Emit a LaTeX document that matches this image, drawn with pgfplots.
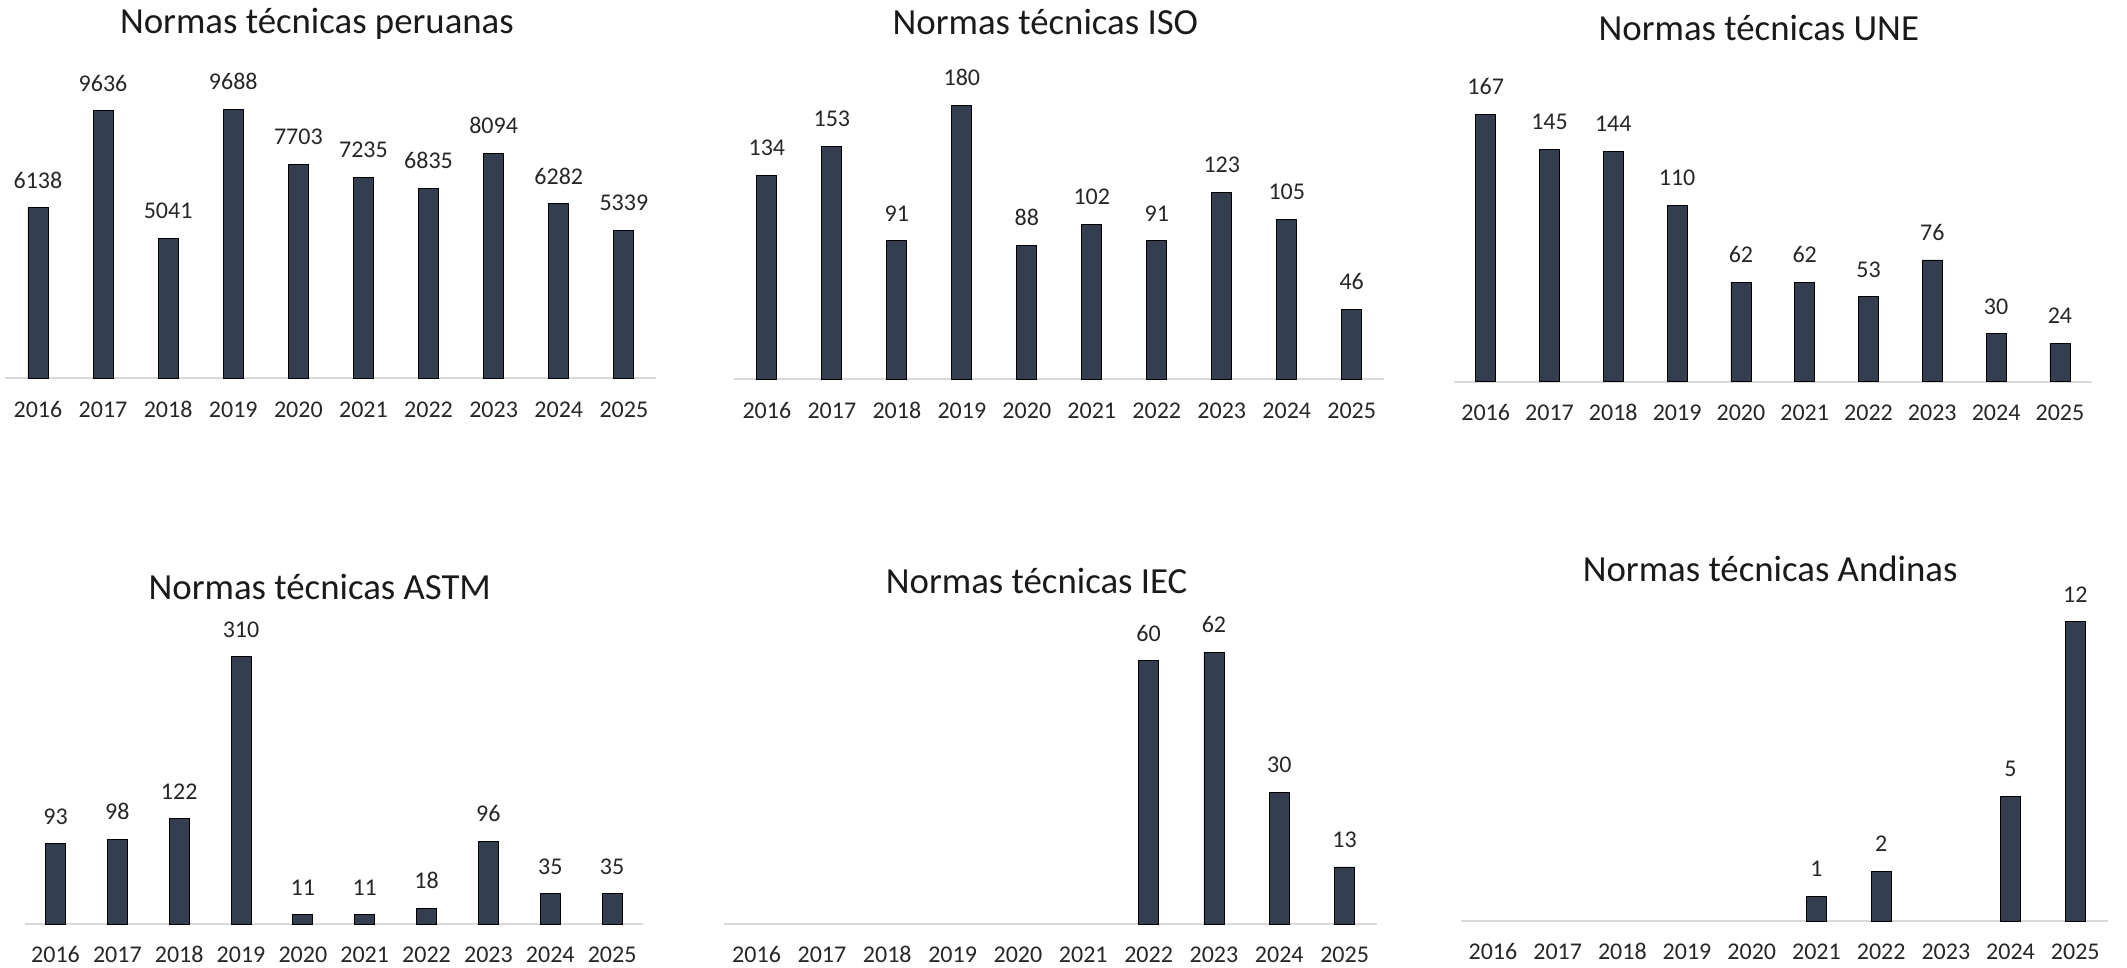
\documentclass[border=0pt]{standalone}
\usepackage{fontspec}
\setmainfont{Carlito}
\usepackage{pgfplots}
\pgfplotsset{compat=1.18}
\definecolor{barc}{HTML}{333F50}
\definecolor{axc}{HTML}{D9D9D9}
\definecolor{txt}{HTML}{262626}
\definecolor{ttl}{HTML}{1A1A1A}
\pgfplotsset{
  normas/.style={
    scale only axis, anchor=south west,
    xmin=-0.5, xmax=9.5, ymin=0,
    enlargelimits=false, clip=false,
    axis x line*=bottom, axis y line=none,
    x axis line style={draw=axc, line width=1pt},
    xtick={0,...,9},
    xticklabels={2016,2017,2018,2019,2020,2021,2022,2023,2024,2025},
    major tick length=0pt, ytick=\empty,
    xticklabel style={font=\fontsize{12}{14}\selectfont, text=txt, anchor=base, inner sep=0pt, yshift=-19.5pt},
    ybar, bar width=10pt, bar shift=0pt,
    cycle list={{fill=barc, draw=none}},
    /pgf/number format/assume math mode=true,
    /pgf/number format/1000 sep={},
    nodes near coords,
    nodes near coords style={font=\fontsize{12}{14}\selectfont, text=txt, anchor=south, inner sep=0pt, yshift=9.5pt},
    title style={font=\fontsize{18.4}{21}\selectfont, text=ttl, anchor=base, inner sep=0pt, at={(rel axis cs:0.5,0)}, xshift=-7pt},
  }
}
\begin{document}
\begin{tikzpicture}
\useasboundingbox (0pt,0pt) rectangle (1063.5pt,484pt);
% Peruanas
\begin{axis}[normas, at={(2.7pt,294.85pt)}, width=325.5pt, height=134.5pt, ymax=9688,
  title={Normas técnicas peruanas}, title style={yshift=166.5pt}]
\addplot coordinates {(0,6138) (1,9636) (2,5041) (3,9688) (4,7703) (5,7235) (6,6835) (7,8094) (8,6282) (9,5339)};
\end{axis}
% ISO
\begin{axis}[normas, at={(367.2pt,294.35pt)}, width=324.9pt, height=137pt, ymax=180,
  title={Normas técnicas ISO}, title style={yshift=166.2pt}]
\addplot coordinates {(0,134) (1,153) (2,91) (3,180) (4,88) (5,102) (6,91) (7,123) (8,105) (9,46)};
\end{axis}
% UNE
\begin{axis}[normas, at={(726.9pt,293.15pt)}, width=319pt, height=133.7pt, ymax=167,
  title={Normas técnicas UNE}, title style={yshift=164.8pt}]
\addplot coordinates {(0,167) (1,145) (2,144) (3,110) (4,62) (5,62) (6,53) (7,76) (8,30) (9,24)};
\end{axis}
% ASTM
\begin{axis}[normas, at={(12.3pt,22pt)}, width=309.2pt, height=133.65pt, ymax=310,
  title={Normas técnicas ASTM}, title style={yshift=156pt}]
\addplot coordinates {(0,93) (1,98) (2,122) (3,310) (4,11) (5,11) (6,18) (7,96) (8,35) (9,35)};
\end{axis}
% IEC
\begin{axis}[normas, at={(361.95pt,22pt)}, width=326.7pt, height=136pt, ymax=62,
  title={Normas técnicas IEC}, title style={yshift=159pt}]
\addplot coordinates {(6,60) (7,62) (8,30) (9,13)};
\end{axis}
% Andinas
\begin{axis}[normas, at={(730.3pt,23.5pt)}, width=323.5pt, height=149.65pt, ymax=12,
  title={Normas técnicas Andinas}, title style={yshift=163.7pt}]
\addplot coordinates {(5,1) (6,2) (8,5) (9,12)};
\end{axis}
\end{tikzpicture}
\end{document}
